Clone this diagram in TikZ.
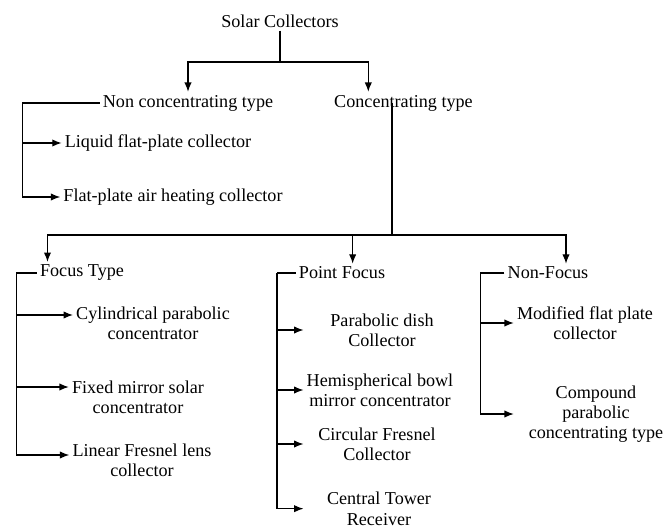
\documentclass[tikz,border=0pt]{standalone}
\usepackage{fontspec}
\setmainfont{Liberation Serif}
\usepackage{tikz}
\usetikzlibrary{arrows.meta}
\tikzset{>={Latex[length=7pt,width=5.5pt]}}

\begin{document}
\begin{tikzpicture}[node distance=45pt, line width=0.9pt, every node/.style={align=center, inner sep=2pt, font=\fontsize{13.6pt}{15.2pt}\selectfont}]
    \useasboundingbox (0,0) rectangle (503.25pt,-395.25pt);

    % Nodes
    \node (title) at (210pt,-15.75pt) {Solar Collectors};
    \node (noncon) [below of=title, xshift=-69pt, yshift=-16.5pt] {Non concentrating type};
    \node (con) [below of=title, xshift=92.6pt, yshift=-16.5pt] {Concentrating type};
    \node (liquid) [below of=noncon, xshift=-22.5pt, yshift=15pt] {Liquid flat-plate collector};
    \node (flatair) [below of=liquid, xshift=11.25pt, yshift=4.5pt] {Flat-plate air heating collector};

    \node (focus) [below of=flatair, xshift=-68.25pt, yshift=-12pt] {Focus Type};
    \node (point) [right of=focus, xshift=150pt] {Point Focus};
    \node (nonfocus) [right of=point, xshift=109.5pt] {Non-Focus};

    \node (cyl) [below of=focus, xshift=53.25pt, yshift=7.5pt] {Cylindrical parabolic \\ concentrator};
    \node (fixed) [below of=cyl, xshift=-11.25pt, yshift=-10.5pt] {Fixed mirror solar \\ concentrator};
    \node (linear) [below of=fixed, xshift=3pt, yshift=-2.25pt] {Linear Fresnel lens \\ collector};

    \node (parab) [below of=point, xshift=30pt, yshift=2.25pt] {Parabolic dish \\ Collector};
    \node (hemi) [below of=parab, xshift=-1.5pt] {Hemispherical bowl \\ mirror concentrator};
    \node (circ) [below of=hemi, xshift=-2.25pt, yshift=4.5pt] {Circular Fresnel \\ Collector};
    \node (central) [below of=circ, xshift=1.5pt, yshift=-3.5pt] {Central Tower \\ Receiver};

    \node (modified) [below of=nonfocus, xshift=27.75pt, yshift=7.5pt] {Modified flat plate \\ collector};
    \node (compound) [below of=modified, xshift=8.25pt, yshift=-23.25pt] {Compound \\ parabolic \\ concentrating type};

    % Arrows
    \draw (title.south) -- (title.south |- 0,-46.5pt) coordinate (split);
    \draw[->] (split) -| (noncon.north);
    \draw[->] (split) -| ([xshift=28pt]con.north west);

    \coordinate (ncbar) at ([xshift=-58pt]noncon.west);
    \draw (noncon.west) -- (ncbar);
    \draw[->] (ncbar) |- (liquid.west);
    \draw[->] (ncbar) |- (flatair.west);

    \draw ([xshift=-8.6pt]con.center) -- ++(0,-99pt) coordinate (cbus);
    \draw[->] (cbus) -| ([xshift=8pt]focus.north west);
    \draw[->] (cbus) -| ([xshift=8pt]point.north);
    \draw[->] (cbus) -| ([xshift=13.5pt]nonfocus.north);

    \coordinate (fbar) at ([xshift=-15.25pt]focus.west);
    \draw (focus.west) -- (fbar);
    \draw[->] (fbar) |- ([yshift=6pt]cyl.west);
    \draw[->] (fbar) |- ([yshift=7.5pt]fixed.west);
    \draw[->] (fbar) |- ([yshift=3.75pt]linear.west);

    \coordinate (pbar) at ([xshift=-14pt]point.west);
    \draw (point.west) -- (pbar);
    \draw[->] (pbar) |- (hemi.west |- parab);
    \draw[->] (pbar) |- (hemi.west);
    \draw[->] (pbar) |- (hemi.west |- circ);
    \draw[->] (pbar) |- (hemi.west |- central);

    \coordinate (nbar) at ([xshift=-18pt]nonfocus.west);
    \draw (nonfocus.west) -- (nbar);
    \draw[->] (nbar) |- (modified.west);
    \draw[->] (nbar) |- (modified.west |- compound);
\end{tikzpicture}
\end{document}
